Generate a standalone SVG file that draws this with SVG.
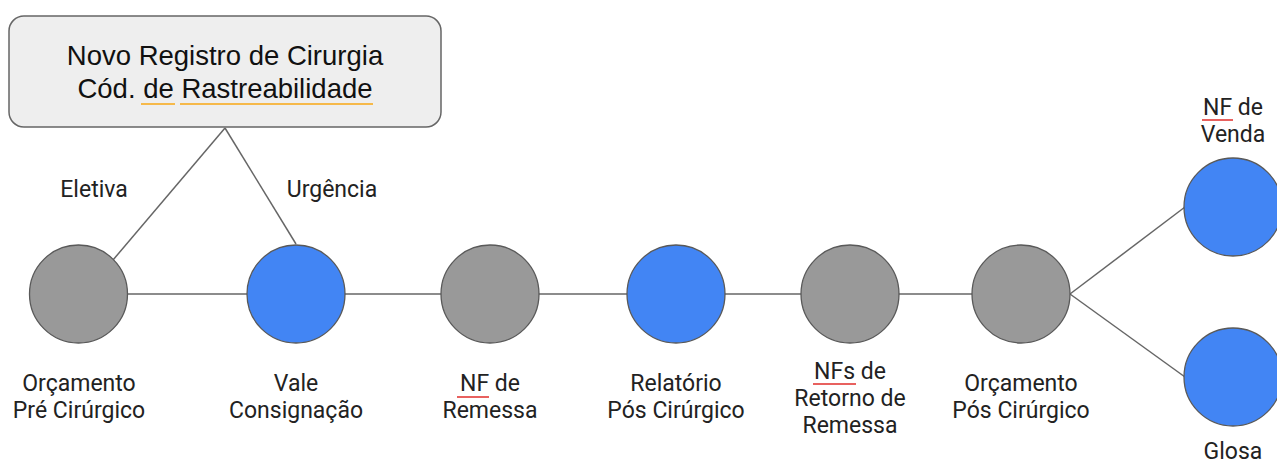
<svg xmlns="http://www.w3.org/2000/svg" width="1277" height="465" viewBox="0 0 1277 465">
<style>
.lbl{font-family:Roboto,"Liberation Sans",sans-serif;font-size:23px;fill:#222;text-anchor:middle}
.box{font-family:"Liberation Sans",Arial,sans-serif;font-size:27.5px;fill:#111;text-anchor:middle}
.gray{fill:#999999;stroke:#595959;stroke-width:1.3}
.blue{fill:#4285f4;stroke:#595959;stroke-width:1.3}
.conn{stroke:#666;stroke-width:1.5;fill:none}
.uo{stroke:#f6b94a;stroke-width:2}
.ur{stroke:#e8615f;stroke-width:2}
</style>
<rect width="1277" height="465" fill="#fff"/>
<g id="connectors">
<line class="conn" x1="225" y1="128" x2="113" y2="260"/>
<line class="conn" x1="225" y1="128" x2="296" y2="244"/>
<line class="conn" x1="128" y1="294" x2="247" y2="294"/>
<line class="conn" x1="345" y1="294" x2="441" y2="294"/>
<line class="conn" x1="539" y1="294" x2="627" y2="294"/>
<line class="conn" x1="725" y1="294" x2="801" y2="294"/>
<line class="conn" x1="899" y1="294" x2="972" y2="294"/>
<line class="conn" x1="1070" y1="294" x2="1185" y2="207"/>
<line class="conn" x1="1070" y1="294" x2="1185" y2="377"/>
</g>
<g id="registro">
<rect x="9" y="16" width="432" height="111" rx="15" fill="#eeeeee" stroke="#666" stroke-width="1.5"/>
<text class="box" x="225" y="65">Novo Registro de Cirurgia</text>
<text class="box" x="225" y="98">Cód. de Rastreabilidade</text>
<line class="uo" x1="141" y1="104" x2="175" y2="104"/>
<line class="uo" x1="180" y1="104" x2="373" y2="104"/>
</g>
<g id="eletiva"><text class="lbl" x="94" y="197">Eletiva</text></g>
<g id="urgencia"><text class="lbl" x="332" y="197">Urgência</text></g>
<g id="n1">
<circle class="gray" cx="78.5" cy="294" r="49"/>
<text class="lbl" x="79" y="391">Orçamento</text>
<text class="lbl" x="79" y="418">Pré Cirúrgico</text>
</g>
<g id="n2">
<circle class="blue" cx="296" cy="294" r="49"/>
<text class="lbl" x="296" y="391">Vale</text>
<text class="lbl" x="296" y="418">Consignação</text>
</g>
<g id="n3">
<circle class="gray" cx="490" cy="294" r="49"/>
<text class="lbl" x="490" y="391">NF de</text>
<text class="lbl" x="490" y="418">Remessa</text>
<line class="ur" x1="457" y1="397" x2="489" y2="397"/>
</g>
<g id="n4">
<circle class="blue" cx="676" cy="294" r="49"/>
<text class="lbl" x="676" y="391">Relatório</text>
<text class="lbl" x="676" y="418">Pós Cirúrgico</text>
</g>
<g id="n5">
<circle class="gray" cx="850" cy="294" r="49"/>
<text class="lbl" x="850" y="379">NFs de</text>
<text class="lbl" x="850" y="406">Retorno de</text>
<text class="lbl" x="850" y="433">Remessa</text>
<line class="ur" x1="813" y1="384" x2="856" y2="384"/>
</g>
<g id="n6">
<circle class="gray" cx="1021" cy="294" r="49"/>
<text class="lbl" x="1021" y="391">Orçamento</text>
<text class="lbl" x="1021" y="418">Pós Cirúrgico</text>
</g>
<g id="n7">
<circle class="blue" cx="1233" cy="207" r="49"/>
<text class="lbl" x="1233" y="115">NF de</text>
<text class="lbl" x="1233" y="142">Venda</text>
<line class="ur" x1="1202" y1="120" x2="1233" y2="120"/>
</g>
<g id="n8">
<circle class="blue" cx="1233" cy="377" r="49"/>
<text class="lbl" x="1233" y="459">Glosa</text>
</g>
</svg>
